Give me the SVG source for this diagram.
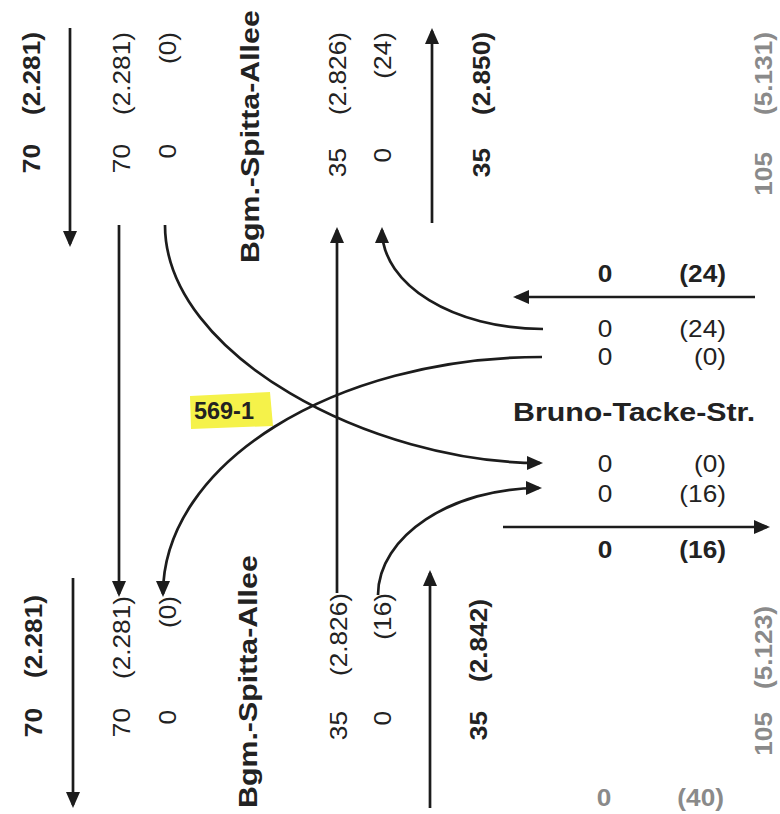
<svg xmlns="http://www.w3.org/2000/svg" width="780" height="814" viewBox="0 0 780 814">
<style>
.t{font-family:"Liberation Sans",Arial,sans-serif;font-size:23px;fill:#222}
.b{font-weight:bold}
.g{fill:#8a8a8a}
.nm{font-size:25.5px;font-weight:bold}
.e{text-anchor:end}
.m{text-anchor:middle}
.ln{stroke:#1c1c1c;stroke-width:2.7;fill:none;stroke-linecap:butt}
.ar{marker-end:url(#ah)}
</style>
<defs>
<marker id="ah" markerUnits="userSpaceOnUse" markerWidth="17" markerHeight="14" refX="13" refY="7" orient="auto">
<path d="M0,0 L16,7 L0,14 z" fill="#1c1c1c"/>
</marker>
</defs>
<rect width="780" height="814" fill="#ffffff"/>

<g id="connectors">
<line class="ln ar" x1="70" y1="28" x2="70" y2="244"/>
<line class="ln ar" x1="119" y1="225" x2="119" y2="594"/>
<path class="ln ar" d="M165,225 C165,356 373,463 540,463"/>
<line class="ln ar" x1="337" y1="593" x2="337" y2="230"/>
<path class="ln ar" d="M543,329 C454,329 382,285 382,230"/>
<line class="ln ar" x1="432" y1="223" x2="432" y2="31"/>
<line class="ln ar" x1="755" y1="297" x2="516" y2="297"/>
<line class="ln ar" x1="503" y1="527" x2="767" y2="527"/>
<path class="ln ar" d="M542,357 C334,357 163,464 163,594"/>
<path class="ln ar" d="M378,595 C378,536 452,488 539,488"/>
<line class="ln ar" x1="73" y1="578" x2="73" y2="805"/>
<line class="ln ar" x1="430" y1="808" x2="430" y2="573"/>
</g>

<g id="north-approach">
<text class="t b e" transform="translate(40,144) rotate(-90) scale(1.14,1)">70</text>
<text class="t b e" transform="translate(40,32) rotate(-90) scale(1.14,1)">(2.281)</text>
<text class="t e" transform="translate(130,144) rotate(-90) scale(1.14,1)">70</text>
<text class="t e" transform="translate(130,32) rotate(-90) scale(1.14,1)">(2.281)</text>
<text class="t e" transform="translate(176,144) rotate(-90) scale(1.14,1)">0</text>
<text class="t e" transform="translate(176,32) rotate(-90) scale(1.14,1)">(0)</text>
<text class="t e" transform="translate(346,148) rotate(-90) scale(1.14,1)">35</text>
<text class="t e" transform="translate(346,32) rotate(-90) scale(1.14,1)">(2.826)</text>
<text class="t e" transform="translate(391,148) rotate(-90) scale(1.14,1)">0</text>
<text class="t e" transform="translate(391,32) rotate(-90) scale(1.14,1)">(24)</text>
<text class="t b e" transform="translate(490,148) rotate(-90) scale(1.14,1)">35</text>
<text class="t b e" transform="translate(490,32) rotate(-90) scale(1.14,1)">(2.850)</text>
<text class="t b g e" transform="translate(772,152) rotate(-90) scale(1.14,1)">105</text>
<text class="t b g e" transform="translate(772,32) rotate(-90) scale(1.14,1)">(5.131)</text>
</g>

<g id="street-north">
<text class="t nm" transform="translate(259,263) rotate(-90) scale(1.19,1)">Bgm.-Spitta-Allee</text>
</g>

<g id="east-approach">
<text class="t b m" transform="translate(605,282) scale(1.14,1)">0</text>
<text class="t b e" transform="translate(726,282) scale(1.14,1)">(24)</text>
<text class="t m" transform="translate(605,337) scale(1.14,1)">0</text>
<text class="t e" transform="translate(726,337) scale(1.14,1)">(24)</text>
<text class="t m" transform="translate(605,365) scale(1.14,1)">0</text>
<text class="t e" transform="translate(726,365) scale(1.14,1)">(0)</text>
<text class="t m" transform="translate(605,472) scale(1.14,1)">0</text>
<text class="t e" transform="translate(726,472) scale(1.14,1)">(0)</text>
<text class="t m" transform="translate(605,502) scale(1.14,1)">0</text>
<text class="t e" transform="translate(726,502) scale(1.14,1)">(16)</text>
<text class="t b m" transform="translate(605,558) scale(1.14,1)">0</text>
<text class="t b e" transform="translate(726,558) scale(1.14,1)">(16)</text>
<text class="t b g m" transform="translate(604,806) scale(1.14,1)">0</text>
<text class="t b g e" transform="translate(724,806) scale(1.14,1)">(40)</text>
</g>

<g id="street-east">
<text class="t nm" transform="translate(513,421) scale(1.19,1)">Bruno-Tacke-Str.</text>
</g>

<g id="south-approach">
<text class="t b e" transform="translate(42,708) rotate(-90) scale(1.14,1)">70</text>
<text class="t b e" transform="translate(42,595) rotate(-90) scale(1.14,1)">(2.281)</text>
<text class="t e" transform="translate(130,708) rotate(-90) scale(1.14,1)">70</text>
<text class="t e" transform="translate(130,596) rotate(-90) scale(1.14,1)">(2.281)</text>
<text class="t e" transform="translate(176,710) rotate(-90) scale(1.14,1)">0</text>
<text class="t e" transform="translate(176,596) rotate(-90) scale(1.14,1)">(0)</text>
<text class="t e" transform="translate(347,711) rotate(-90) scale(1.14,1)">35</text>
<text class="t e" transform="translate(347,593) rotate(-90) scale(1.14,1)">(2.826)</text>
<text class="t e" transform="translate(391,711) rotate(-90) scale(1.14,1)">0</text>
<text class="t e" transform="translate(391,593) rotate(-90) scale(1.14,1)">(16)</text>
<text class="t b e" transform="translate(487,711) rotate(-90) scale(1.14,1)">35</text>
<text class="t b e" transform="translate(487,599) rotate(-90) scale(1.14,1)">(2.842)</text>
<text class="t b g e" transform="translate(772,712) rotate(-90) scale(1.14,1)">105</text>
<text class="t b g e" transform="translate(772,606) rotate(-90) scale(1.14,1)">(5.123)</text>
</g>

<g id="street-south">
<text class="t nm" transform="translate(257,808) rotate(-90) scale(1.19,1)">Bgm.-Spitta-Allee</text>
</g>

<g id="junction-label">
<path d="M190,396 L270,392 L273,426 L191,429 z" fill="#f5f24a"/>
<text class="t b" transform="translate(194,419) scale(1.02,1)">569-1</text>
</g>
</svg>
